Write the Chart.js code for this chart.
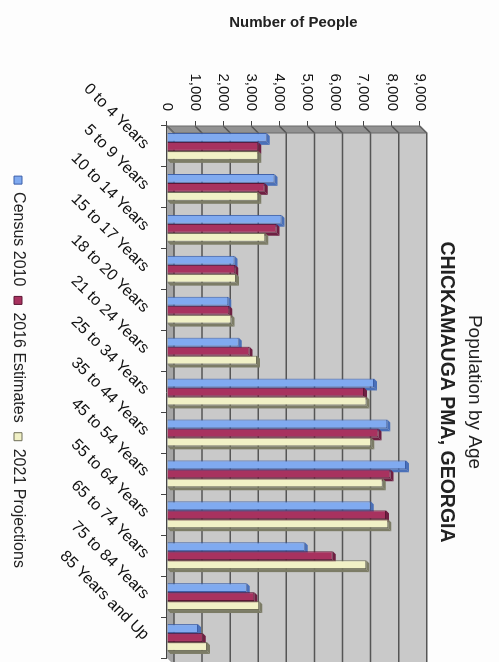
<!DOCTYPE html>
<html>
<head>
<meta charset="utf-8">
<title>Population by Age</title>
<script src="https://cdn.jsdelivr.net/npm/chart.js@4.4.1/dist/chart.umd.min.js"></script>
<style>
  html, body { margin: 0; padding: 0; background: #fdfdfd; overflow: hidden; }
  /* chart is laid out landscape and turned a quarter turn clockwise */
  #wrap {
    position: absolute; left: 0; top: 0;
    width: 662px; height: 499px;
    transform-origin: 0 0;
    transform: translate(499px, 0) rotate(90deg);
  }
</style>
</head>
<body>
<div id="wrap"><canvas id="ageChart" width="662" height="499"></canvas></div>
<script>
const ageGroups = [
  '0 to 4 Years', '5 to 9 Years', '10 to 14 Years', '15 to 17 Years',
  '18 to 20 Years', '21 to 24 Years', '25 to 34 Years', '35 to 44 Years',
  '45 to 54 Years', '55 to 64 Years', '65 to 74 Years', '75 to 84 Years',
  '85 Years and Up'
];
const census2010      = [3550, 3830, 4080, 2400, 2180, 2550, 7370, 7840, 8510, 7250, 4900, 2840, 1100];
const estimates2016   = [3250, 3480, 3900, 2430, 2220, 2940, 7010, 7530, 7960, 7800, 5900, 3110, 1270];
const projections2021 = [3250, 3250, 3500, 2460, 2300, 3200, 7100, 7270, 7680, 7880, 7090, 3280, 1420];
const valueTicks = [0, 1000, 2000, 3000, 4000, 5000, 6000, 7000, 8000, 9000];

const WALL_DEPTH = 7;
const BAR_DEPTH = 3;
const LEGEND_SHIFT = 20;

Chart.defaults.font.family = "'Liberation Sans', Arial, sans-serif";
Chart.defaults.color = '#1a1a1a';

function poly(ctx, pts, fill) {
  ctx.beginPath();
  ctx.moveTo(pts[0][0], pts[0][1]);
  for (let i = 1; i < pts.length; i++) ctx.lineTo(pts[i][0], pts[i][1]);
  ctx.closePath();
  ctx.fillStyle = fill;
  ctx.fill();
}

// back wall, side wall and floor, then the depth faces of each bar
const box3d = {
  id: 'box3d',
  afterLayout(chart) {
    // legend sits a little left of the plot centre
    chart.legend.left -= LEGEND_SHIFT;
    chart.legend.right -= LEGEND_SHIFT;
  },
  beforeDatasetsDraw(chart) {
    const { ctx, chartArea: a, scales: { y } } = chart;
    const d = WALL_DEPTH;
    ctx.save();

    poly(ctx, [[a.left, a.top], [a.left + d, a.top - d], [a.left + d, a.bottom - d], [a.left, a.bottom]], '#929292');
    poly(ctx, [[a.left, a.bottom], [a.left + d, a.bottom - d], [a.right + d, a.bottom - d], [a.right, a.bottom]], '#a6a6a6');
    ctx.fillStyle = '#c9c9c9';
    ctx.fillRect(a.left + d, a.top - d, a.right - a.left, a.bottom - a.top);

    ctx.strokeStyle = '#555';
    ctx.lineWidth = 1.5;
    y.ticks.forEach(t => {
      const py = y.getPixelForValue(t.value);
      ctx.beginPath();
      ctx.moveTo(a.left, py);
      ctx.lineTo(a.left + d, py - d);
      ctx.lineTo(a.right + d, py - d);
      ctx.stroke();
    });
    ctx.lineWidth = 1;
    ctx.strokeStyle = '#6a6a6a';
    ctx.beginPath();
    ctx.moveTo(a.left, a.bottom);
    ctx.lineTo(a.left, a.top);
    ctx.lineTo(a.left + d, a.top - d);
    ctx.lineTo(a.left + d, a.bottom - d);
    ctx.lineTo(a.left, a.bottom);
    ctx.stroke();

    const b = BAR_DEPTH;
    chart.data.datasets.forEach((ds, i) => {
      chart.getDatasetMeta(i).data.forEach(bar => {
        const { x, y: top, base, width } = bar.getProps(['x', 'y', 'base', 'width'], true);
        const l = x - width / 2, r = x + width / 2;
        poly(ctx, [[l, top], [l + b, top - b], [r + b, top - b], [r, top]], ds.sideColor);
        poly(ctx, [[r, top], [r + b, top - b], [r + b, base - b], [r, base]], ds.sideColor);
      });
    });
    ctx.restore();
  }
};

new Chart(document.getElementById('ageChart'), {
  type: 'bar',
  data: {
    labels: ageGroups,
    datasets: [
      { label: 'Census 2010', data: census2010, backgroundColor: '#80aaf0', borderColor: '#3b5ea8', sideColor: '#4a70b8' },
      { label: '2016 Estimates', data: estimates2016, backgroundColor: '#a8325f', borderColor: '#5c1634', sideColor: '#6e1f42' },
      { label: '2021 Projections', data: projections2021, backgroundColor: '#f1f1c6', borderColor: '#6e6e58', sideColor: '#7c7c66' }
    ]
  },
  options: {
    responsive: false,
    animation: false,
    devicePixelRatio: 1,
    layout: { padding: { left: 14, right: 4, top: 0, bottom: 0 } },
    datasets: {
      bar: { borderWidth: 1, categoryPercentage: 0.66, barPercentage: 0.98 }
    },
    scales: {
      x: {
        grid: { drawOnChartArea: false, tickLength: 6, color: '#444', offset: true },
        border: { color: '#444' },
        ticks: { minRotation: 45, maxRotation: 45, padding: 8, font: { size: 16 }, color: '#111' },
        afterFit: s => { s.height = 131; }
      },
      y: {
        min: 0,
        max: 9000,
        afterBuildTicks: s => { s.ticks = valueTicks.map(v => ({ value: v })); },
        ticks: { padding: 10, font: { size: 15 }, color: '#111', callback: v => v.toLocaleString('en-US') },
        grid: { drawOnChartArea: false, tickLength: 5, color: '#444' },
        border: { color: '#444' },
        title: { display: true, text: 'Number of People', font: { size: 15, weight: 'bold' }, color: '#222', padding: { top: 0, bottom: 0 } },
        afterFit: s => { s.width = 112; }
      }
    },
    plugins: {
      title: {
        display: true, text: 'Population by Age', fullSize: false,
        font: { size: 19, weight: 'normal' }, color: '#222', padding: { top: 13, bottom: 0 }
      },
      subtitle: {
        display: true, text: 'CHICKAMAUGA PMA, GEORGIA', fullSize: false,
        font: { size: 19.5, weight: 'bold' }, color: '#222', padding: { top: 5, bottom: 15 }
      },
      legend: {
        position: 'bottom', fullSize: false,
        labels: { boxWidth: 8, boxHeight: 8, font: { size: 16 }, color: '#222', padding: 10 }
      },
      tooltip: { enabled: false }
    }
  },
  plugins: [box3d]
});
</script>
</body>
</html>
